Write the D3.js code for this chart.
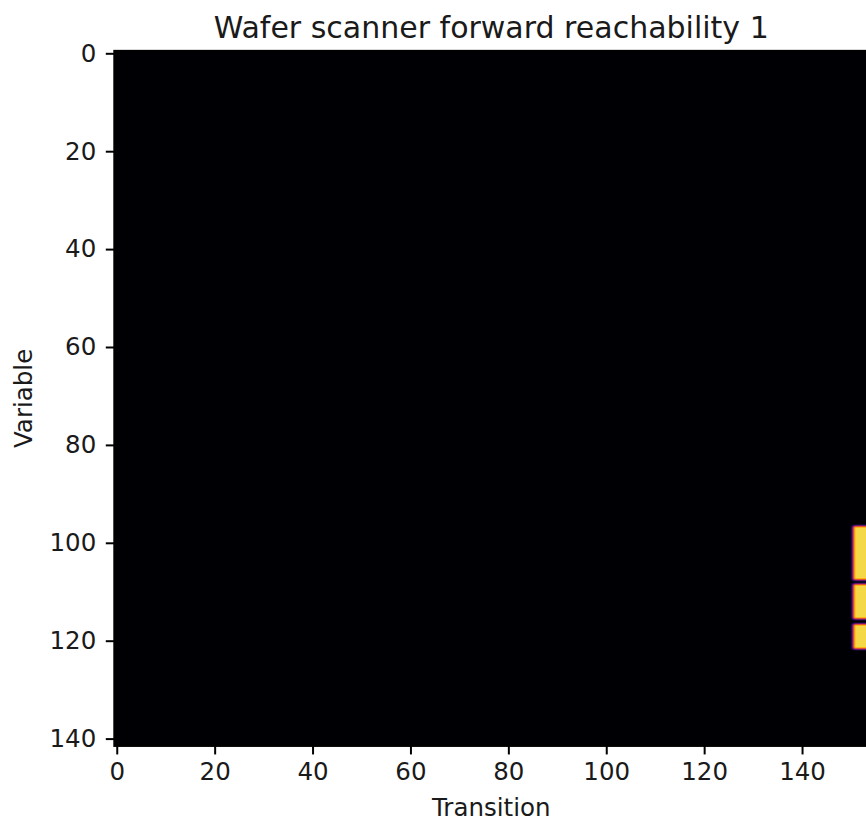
<!DOCTYPE html>
<meta charset="utf-8">
<script src="https://d3js.org/d3.v7.min.js"></script>
<style>
  body { margin: 0; background: #fff; }
  text { font-family: "DejaVu Sans", sans-serif; fill: #1a1a1a; }
</style>
<div id="my_dataviz"></div>

<script>

// Data: reachability matrix (variables x transitions), zero everywhere except the cells below
var nRows = 142, nCols = 154;
var reachCols = [151, 152, 153];
var reachRows = [97, 98, 99, 100, 101, 102, 103, 104, 105, 106, 107,
                 109, 110, 111, 112, 113, 114, 115,
                 117, 118, 119, 120, 121];
var reachVals = [1, 1, 1, 1, 1, 1, 1, 1, 1, 1, 1,
                 1, 1, 1, 1, 1, 1, 1,
                 1, 1, 1, 1, 1];
var xTicks = [0, 20, 40, 60, 80, 100, 120, 140];
var yTicks = [0, 20, 40, 60, 80, 100, 120, 140];

var W = 866, H = 825;
var unit = 4.895;
var plotLeft = 114.3, plotTop = 50.85;

var svg = d3.select('#my_dataviz')
    .append('svg')
        .attr("width", W)
        .attr("height", H);

var x = d3.scaleLinear()
    .domain([-0.5, nCols - 0.5])
    .range([plotLeft, plotLeft + nCols * unit]);
var y = d3.scaleLinear()
    .domain([-0.5, nRows - 0.5])
    .range([plotTop, plotTop + nRows * unit]);

// grey value -> inferno, done after a small blur so edges look like the resampled image
var color = d3.scaleLinear().domain([0, 1.11]).range([0, 1]);

var defs = svg.append("defs");
var nSamp = 32, tr = [], tg = [], tb = [];
for (var i = 0; i < nSamp; i++) {
    var c = d3.rgb(d3.interpolateInferno(i / (nSamp - 1)));
    tr.push((c.r / 255).toFixed(4));
    tg.push((c.g / 255).toFixed(4));
    tb.push((c.b / 255).toFixed(4));
}
var filt = defs.append("filter")
    .attr("id", "cmap")
    .attr("filterUnits", "userSpaceOnUse")
    .attr("x", x.range()[0] - 10).attr("y", y.range()[0] - 10)
    .attr("width", x.range()[1] - x.range()[0] + 20)
    .attr("height", y.range()[1] - y.range()[0] + 20)
    .attr("color-interpolation-filters", "sRGB");
filt.append("feGaussianBlur").attr("stdDeviation", "1.7 1.2");
var ct = filt.append("feComponentTransfer");
ct.append("feFuncR").attr("type", "table").attr("tableValues", tr.join(" "));
ct.append("feFuncG").attr("type", "table").attr("tableValues", tg.join(" "));
ct.append("feFuncB").attr("type", "table").attr("tableValues", tb.join(" "));

defs.append("clipPath").attr("id", "clip")
  .append("rect")
    .attr("x", x.range()[0]).attr("y", y.range()[0])
    .attr("width", x.range()[1] - x.range()[0])
    .attr("height", y.range()[1] - y.range()[0]);

var img = svg.append("g").attr("clip-path", "url(#clip)")
  .append("g").attr("filter", "url(#cmap)");

// Background (value 0)
img.append("rect")
    .attr("x", x(-0.5) - 10).attr("y", y(-0.5) - 10)
    .attr("width", x(nCols - 0.5) - x(-0.5) + 20)
    .attr("height", y(nRows - 0.5) - y(-0.5) + 20)
    .style("fill", "#000");

// Cells
var cells = [];
reachRows.forEach(function(r, i) {
    reachCols.forEach(function(cc) { cells.push({row: r, col: cc, v: reachVals[i]}); });
});
img.selectAll(".cell")
    .data(cells)
    .enter()
    .append("rect")
        .attr("shape-rendering", "crispEdges")
        .attr("x", function(d) { return x(d.col - 0.5); })
        .attr("y", function(d) { return y(d.row - 0.5); })
        .attr("width", function(d) { return x(d.col + 0.5) - x(d.col - 0.5) + 0.5; })
        .attr("height", function(d) { return y(d.row + 0.5) - y(d.row - 0.5) + 0.5; })
        .style("fill", function(d) { var g = Math.round(color(d.v) * 255); return d3.rgb(g, g, g); });

// Axes
var xAxis = svg.append("g")
    .attr("transform", "translate(0," + y.range()[1] + ")")
    .call(d3.axisBottom(x).tickValues(xTicks).tickSize(8.5).tickPadding(8).tickSizeOuter(0));
var yAxis = svg.append("g")
    .attr("transform", "translate(" + x.range()[0] + ",0)")
    .call(d3.axisLeft(y).tickValues(yTicks).tickSize(8.5).tickPadding(9.5).tickSizeOuter(0));
[xAxis, yAxis].forEach(function(a) {
    a.select(".domain").remove();
    a.selectAll(".tick line").attr("stroke", "#000").attr("stroke-width", 2);
    a.selectAll(".tick text").style("font-size", "24.5px").style("fill", "#1a1a1a")
        .style("font-family", "DejaVu Sans, sans-serif");
});

// Spines
svg.append("rect")
    .attr("x", x.range()[0]).attr("y", y.range()[0])
    .attr("width", x.range()[1] - x.range()[0])
    .attr("height", y.range()[1] - y.range()[0])
    .style("fill", "none").style("stroke", "#000").style("stroke-width", 2);

// Labels
var cx = (x.range()[0] + x.range()[1]) / 2;
svg.append("text")
    .attr("text-anchor", "middle")
    .attr("x", cx).attr("y", 37.5)
    .style("font-size", "30px")
    .text("Wafer scanner forward reachability 1");
svg.append("text")
    .attr("text-anchor", "middle")
    .attr("x", cx).attr("y", 815.5)
    .style("font-size", "24.5px")
    .text("Transition");
svg.append("text")
    .attr("text-anchor", "middle")
    .attr("transform", "translate(31.5," + ((y.range()[0] + y.range()[1]) / 2) + ") rotate(-90)")
    .style("font-size", "24.5px")
    .text("Variable");

</script>
